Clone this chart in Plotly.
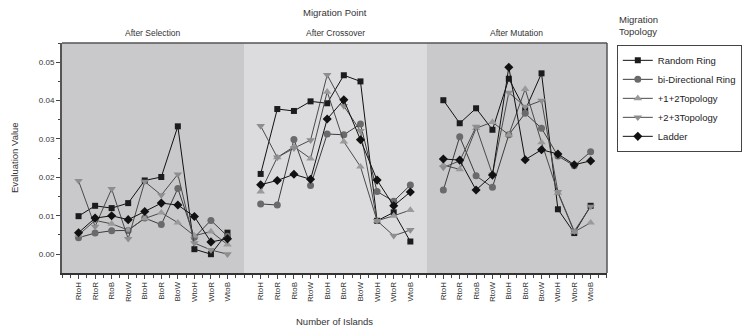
import plotly.graph_objects as go

# Migration transfers (x categories)
categories = ["RtoH", "RtoR", "RtoB", "RtoW", "BtoH", "BtoR", "BtoW", "WtoH", "WtoR", "WtoB"]

# Migration points (facet panels)
panels = ["After Selection", "After Crossover", "After Mutation"]

# Topology series names
series_names = ["Random Ring", "bi-Directional Ring", "+1+2Topology", "+2+3Topology", "Ladder"]

# Evaluation values per panel, per topology
random_ring = [
    [0.0099, 0.0126, 0.0120, 0.0133, 0.0192, 0.0201, 0.0333, 0.0013, 0.0000, 0.0056],
    [0.0209, 0.0378, 0.0373, 0.0398, 0.0393, 0.0466, 0.0450, 0.0087, 0.0109, 0.0033],
    [0.0401, 0.0341, 0.0380, 0.0324, 0.0457, 0.0375, 0.0471, 0.0117, 0.0055, 0.0126],
]
bi_directional_ring = [
    [0.0043, 0.0055, 0.0061, 0.0062, 0.0094, 0.0077, 0.0171, 0.0044, 0.0088, 0.0047],
    [0.0131, 0.0128, 0.0299, 0.0179, 0.0313, 0.0311, 0.0339, 0.0163, 0.0138, 0.0180],
    [0.0167, 0.0306, 0.0204, 0.0174, 0.0311, 0.0367, 0.0328, 0.0256, 0.0230, 0.0267],
]
plus12_topology = [
    [0.0050, 0.0088, 0.0079, 0.0063, 0.0093, 0.0108, 0.0082, 0.0048, 0.0059, 0.0025],
    [0.0163, 0.0252, 0.0280, 0.0249, 0.0423, 0.0293, 0.0228, 0.0087, 0.0100, 0.0115],
    [0.0232, 0.0221, 0.0328, 0.0344, 0.0311, 0.0430, 0.0291, 0.0160, 0.0058, 0.0082],
]
plus23_topology = [
    [0.0191, 0.0072, 0.0170, 0.0040, 0.0189, 0.0154, 0.0208, 0.0029, 0.0011, 0.0000],
    [0.0334, 0.0252, 0.0276, 0.0297, 0.0467, 0.0386, 0.0321, 0.0087, 0.0048, 0.0063],
    [0.0226, 0.0243, 0.0332, 0.0208, 0.0421, 0.0384, 0.0400, 0.0162, 0.0060, 0.0124],
]
ladder = [
    [0.0056, 0.0094, 0.0100, 0.0090, 0.0111, 0.0133, 0.0128, 0.0098, 0.0032, 0.0040],
    [0.0181, 0.0192, 0.0208, 0.0195, 0.0352, 0.0402, 0.0298, 0.0193, 0.0126, 0.0162],
    [0.0248, 0.0245, 0.0167, 0.0206, 0.0487, 0.0246, 0.0272, 0.0261, 0.0233, 0.0243],
]

y_ticks = [0.00, 0.01, 0.02, 0.03, 0.04, 0.05]

series_values = [random_ring, bi_directional_ring, plus12_topology, plus23_topology, ladder]
styles = [
    dict(symbol="square", size=6, mcolor="#1c1c1c", lcolor="#111111"),
    dict(symbol="circle", size=7, mcolor="#6a6a6a", lcolor="#3c3c3c"),
    dict(symbol="triangle-up", size=7.5, mcolor="#9a9a9a", lcolor="#4a4a4a"),
    dict(symbol="triangle-down", size=7.5, mcolor="#8e8e8e", lcolor="#4a4a4a"),
    dict(symbol="diamond", size=7, mcolor="#111111", lcolor="#111111"),
]

FONT = "Liberation Sans, Arial, sans-serif"
xpos = list(range(1, len(categories) + 1))

fig = go.Figure()
for si, (name, vals, st) in enumerate(zip(series_names, series_values, styles)):
    for pi in range(len(panels)):
        fig.add_trace(go.Scatter(
            x=xpos, y=vals[pi],
            xaxis="x" if pi == 0 else f"x{pi + 1}", yaxis="y",
            mode="lines+markers", name=name, legendgroup=name,
            showlegend=(pi == 0),
            line=dict(color=st["lcolor"], width=1),
            marker=dict(symbol=st["symbol"], size=st["size"], color=st["mcolor"],
                        line=dict(width=0)),
        ))

# Panel domains (shared y axis)
bounds = [0.0, 0.334, 0.6697, 1.0]
bg_colors = ["#c9c9cb", "#dcdcde", "#c9c9cb"]

axis_common = dict(
    range=[0, len(categories) + 1],
    tickmode="array", tickvals=xpos, ticktext=categories,
    tickangle=-90, ticks="outside", ticklen=4, tickcolor="#444", tickwidth=1,
    minor=dict(dtick=0.5, tick0=0, ticks="outside", ticklen=3, tickcolor="#444"),
    tickfont=dict(size=8, color="#333", family=FONT),
    showgrid=False, zeroline=False, showline=True, linecolor="#333", linewidth=1.5,
    automargin=False, fixedrange=True,
)

layout = dict(
    width=756, height=326,
    margin=dict(l=62, r=149, t=43, b=53),
    paper_bgcolor="white", plot_bgcolor="white",
    font=dict(family=FONT, size=9, color="#333"),
    showlegend=True,
    legend=dict(
        x=1.018, y=0.992, xanchor="left", yanchor="top",
        bordercolor="#444", borderwidth=1, bgcolor="white",
        font=dict(size=9.5, color="#222", family=FONT),
        tracegroupgap=0, itemwidth=30,
    ),
    yaxis=dict(
        range=[-0.0049, 0.055], tickvals=y_ticks, tickformat=".2f",
        ticks="outside", ticklen=4, tickcolor="#444", tickwidth=1,
        minor=dict(dtick=0.005, tick0=0, ticks="outside", ticklen=2, tickcolor="#444"),
        tickfont=dict(size=8, color="#333", family=FONT),
        showgrid=False, zeroline=False, showline=True, linecolor="#555", linewidth=2,
        automargin=False, fixedrange=True,
    ),
)
for pi in range(len(panels)):
    key = "xaxis" if pi == 0 else f"xaxis{pi + 1}"
    layout[key] = dict(axis_common, domain=[bounds[pi], bounds[pi + 1]], anchor="y")

fig.update_layout(**layout)

# Panel backgrounds
for pi in range(len(panels)):
    xr = "x domain" if pi == 0 else f"x{pi + 1} domain"
    fig.add_shape(type="rect", xref=xr, yref="y domain", x0=0, x1=1, y0=0, y1=1,
                  fillcolor=bg_colors[pi], line=dict(width=0), layer="below")

# Frame: top and right edges
fig.add_shape(type="line", xref="paper", yref="paper", x0=0, x1=1, y0=1, y1=1,
              line=dict(color="#555", width=1.5))
fig.add_shape(type="line", xref="paper", yref="paper", x0=1, x1=1, y0=0, y1=1,
              line=dict(color="#555", width=1.5))

# Panel titles
for pi, title in enumerate(panels):
    fig.add_annotation(text=title, xref="paper", yref="paper",
                       x=(bounds[pi] + bounds[pi + 1]) / 2, y=1.0, yshift=3,
                       xanchor="center", yanchor="bottom", showarrow=False,
                       font=dict(size=8.5, color="#333"))
fig.add_annotation(text="Migration Point", xref="paper", yref="paper",
                   x=0.5, y=1.0, yshift=23, xanchor="center", yanchor="bottom",
                   showarrow=False, font=dict(size=9.5, color="#333"))
fig.add_annotation(text="Migration<br>Topology", xref="paper", yref="paper",
                   x=1.018, y=1.0, yshift=4, xanchor="left", yanchor="bottom",
                   align="left", showarrow=False, font=dict(size=9.5, color="#333"))

# Axis titles
fig.add_annotation(text="Number of Islands", xref="paper", yref="paper",
                   x=0.5, y=0.0, yshift=-41, xanchor="center", yanchor="top",
                   showarrow=False, font=dict(size=9.5, color="#333"))
fig.add_annotation(text="Evaluation Value", xref="paper", yref="paper",
                   x=0.0, y=0.5, xshift=-48, textangle=-90,
                   xanchor="center", yanchor="middle",
                   showarrow=False, font=dict(size=9.5, color="#333"))

fig.write_html("out.html")
